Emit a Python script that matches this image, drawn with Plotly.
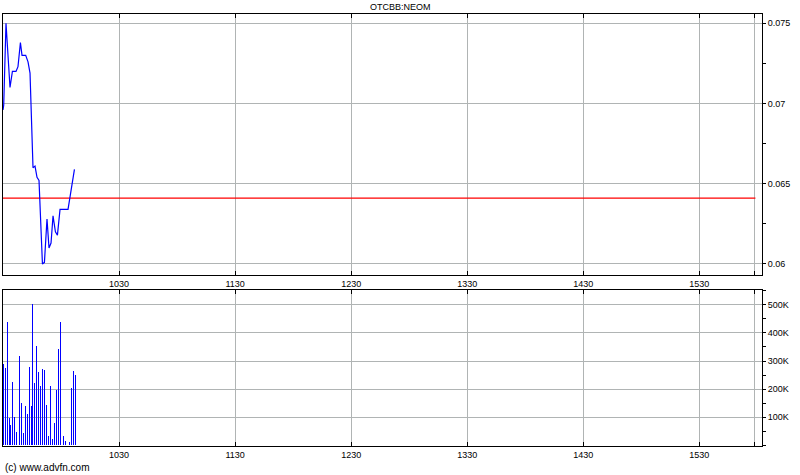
import plotly.graph_objects as go

DAY = "2000-01-01 "

# ---- data ----
price_times = ["09:30:00", "09:30:22", "09:31:33", "09:33:37", "09:34:52", "09:36:43",
               "09:37:45", "09:39:00", "09:39:50", "09:41:44", "09:42:56", "09:43:58",
               "09:45:31", "09:46:33", "09:47:35", "09:48:37", "09:50:23", "09:51:25",
               "09:52:45", "09:53:47", "09:54:50", "09:55:52", "09:57:06", "09:58:08",
               "09:59:29", "10:03:37", "10:06:56"]
prices = [0.0696, 0.0699, 0.0750, 0.0710, 0.0720, 0.0720,
          0.0723, 0.0738, 0.0730, 0.0730, 0.0726, 0.0719,
          0.0660, 0.0661, 0.0654, 0.0652, 0.0600, 0.0601,
          0.0628, 0.0610, 0.0613, 0.0630, 0.0620, 0.0618,
          0.0634, 0.0634, 0.0659]

vol_times = ["09:30:00", "09:31:02", "09:32:04", "09:33:06", "09:34:08", "09:35:10",
             "09:36:12", "09:37:14", "09:38:17", "09:39:19", "09:40:21", "09:41:23",
             "09:42:25", "09:43:27", "09:44:29", "09:45:00", "09:46:02", "09:47:04",
             "09:48:06", "09:49:08", "09:50:10", "09:51:13", "09:52:14", "09:53:17",
             "09:54:19", "09:55:21", "09:56:23", "09:57:25", "09:58:27", "09:59:29",
             "10:01:02", "10:02:04", "10:04:08", "10:05:10", "10:06:12", "10:07:14"]
volumes = [289000, 275000, 439000, 96000, 71000, 225000,
           99000, 46000, 318000, 149000, 42000, 139000,
           111000, 279000, 139000, 504000, 221000, 354000,
           261000, 210000, 271000, 268000, 142000, 32000,
           210000, 20000, 79000, 198000, 343000, 439000,
           32000, 14000, 11000, 204000, 264000, 250000]

prev_close = 0.0641
prev_close_span = ["09:30:00", "15:59:00"]

x_tick_times = ["10:30", "11:30", "12:30", "13:30", "14:30", "15:30", "15:58:18"]
x_tick_labels = ["1030", "1130", "1230", "1330", "1430", "1530", ""]

price_ticks = [0.06, 0.065, 0.07, 0.075]
price_tick_labels = ["0.06", "0.065", "0.07", "0.075"]
vol_ticks = [100000, 200000, 300000, 400000, 500000]
vol_tick_labels = ["100K", "200K", "300K", "400K", "500K"]

title_text = "OTCBB:NEOM"
credit_text = "(c) www.advfn.com"
x_range = ["09:30:00", "16:02:24"]

# ---- figure ----
def ts(lst):
    return [DAY + t for t in lst]

FONT = "Liberation Sans, Arial, sans-serif"
GRID = "#b0b4b4"

# volume drawn as thin vertical bars (stick segments from 0 to value)
stick_x, stick_y = [], []
for t, v in zip(ts(vol_times), volumes):
    stick_x += [t, t, None]
    stick_y += [0, v, None]

fig = go.Figure()
fig.add_trace(go.Scatter(x=ts(prev_close_span), y=[prev_close, prev_close], mode="lines",
                         line=dict(color="#ff0000", width=1.2), xaxis="x2", yaxis="y2",
                         hoverinfo="skip", showlegend=False))
fig.add_trace(go.Scatter(x=ts(price_times), y=prices, mode="lines",
                         line=dict(color="#0000ff", width=1.2), xaxis="x2", yaxis="y2",
                         showlegend=False))
fig.add_trace(go.Scatter(x=stick_x, y=stick_y, mode="lines", connectgaps=False,
                         line=dict(color="#0000ff", width=1),
                         xaxis="x", yaxis="y", showlegend=False))

xcommon = dict(type="date", range=ts(x_range), tickmode="array",
               tickvals=ts(x_tick_times), ticktext=x_tick_labels,
               showgrid=True, gridcolor=GRID, gridwidth=1,
               showline=True, linecolor="black", linewidth=1, mirror="ticks",
               ticks="inside", ticklen=4, tickcolor="black",
               tickfont=dict(family=FONT, size=9, color="black"),
               automargin=False, zeroline=False, fixedrange=True)

fig.update_layout(
    width=800, height=475,
    margin=dict(l=3, r=38, t=14, b=29, pad=0),
    paper_bgcolor="white", plot_bgcolor="white",
    xaxis=dict(**xcommon, anchor="y"),
    xaxis2=dict(**xcommon, anchor="y2", matches="x"),
    yaxis=dict(domain=[0, 0.3611], range=[-3500, 553500], side="right",
               tickmode="array", tickvals=vol_ticks, ticktext=vol_tick_labels,
               showgrid=True, gridcolor=GRID, showline=True, linecolor="black",
               linewidth=1, mirror=True, ticks="outside", ticklen=3, tickcolor="black",
               minor=dict(ticks="outside", ticklen=3, tickcolor="black", dtick=50000,
                          tick0=0, showgrid=False),
               tickfont=dict(family=FONT, size=9, color="black"),
               zeroline=False, automargin=False, fixedrange=True),
    yaxis2=dict(domain=[0.3958, 1], range=[0.05931, 0.07558], side="right",
                tickmode="array", tickvals=price_ticks, ticktext=price_tick_labels,
                showgrid=True, gridcolor=GRID, showline=True, linecolor="black",
                linewidth=1, mirror=True, ticks="outside", ticklen=3, tickcolor="black",
                minor=dict(ticks="outside", ticklen=3, tickcolor="black", dtick=0.0025,
                           tick0=0.06, showgrid=False),
                tickfont=dict(family=FONT, size=9, color="black"),
                zeroline=False, automargin=False, fixedrange=True),
    annotations=[
        dict(text=title_text, x=0.5, y=1, xref="paper", yref="paper",
             xanchor="center", yanchor="bottom", showarrow=False, yshift=0,
             font=dict(family=FONT, size=9, color="black"), xshift=18),
        dict(text=credit_text, x=0, y=0, xref="paper", yref="paper",
             xanchor="left", yanchor="top", showarrow=False, yshift=-14,
             font=dict(family=FONT, size=10, color="black")),
    ],
)

post_js = """
document.body.style.margin='0';
function crisp(){
  var el = document.getElementById('{plot_id}');
  el.querySelectorAll('.subplot.xy .scatterlayer path.js-line').forEach(function(p){
    p.style.shapeRendering = 'crispEdges';
  });
}
crisp();
setTimeout(crisp, 0);
"""

fig.write_html("out.html", config={"displayModeBar": False}, post_script=post_js)
